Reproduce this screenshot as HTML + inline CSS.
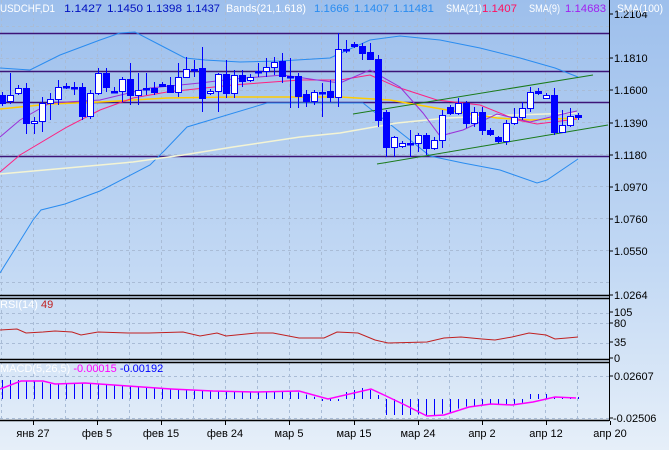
<!DOCTYPE html>
<html><head><meta charset="utf-8"><style>
html,body{margin:0;padding:0;width:669px;height:450px;overflow:hidden;background:linear-gradient(#9dbfec,#c3d9f4 60%,#e6eff9);font-family:"Liberation Sans",sans-serif}
svg{position:absolute;left:0;top:0}
text{font-family:"Liberation Sans",sans-serif;font-size:11px}
</style></head><body>
<svg id="s" width="669" height="450" xmlns="http://www.w3.org/2000/svg"></svg>
<script>
var s='';
function L(x1,y1,x2,y2,c,w,d){s+='<line x1="'+x1+'" y1="'+y1+'" x2="'+x2+'" y2="'+y2+'" stroke="'+c+'" stroke-width="'+(w||1)+'"'+(d?' stroke-dasharray="'+d+'"':'')+'/>';}
function P(pts,c,w){s+='<polyline fill="none" stroke="'+c+'" stroke-width="'+(w||1)+'" points="'+pts.map(function(p){return p.join(',')}).join(' ')+'"/>';}
function T(x,y,t,c,a){s+='<text x="'+x+'" y="'+y+'" fill="'+c+'"'+(a?' text-anchor="'+a+'"':'')+'>'+t+'</text>';}
var gc='#a9bcd6';
for(var x=1;x<609;x+=32){L(x+.5,0,x+.5,295,gc,1,'3,3');L(x+.5,298,x+.5,360,gc,1,'3,3');L(x+.5,362,x+.5,420,gc,1,'3,3');}
for(var y=26;y<295;y+=32)L(0,y+.5,609,y+.5,gc,1,'3,3');
[313,323,343].forEach(function(y){L(0,y+.5,609,y+.5,gc,1,'3,3')});
[376,418].forEach(function(y){L(0,y+.5,609,y+.5,gc,1,'3,3')});
[33,71,102,156].forEach(function(y){L(0,y+.5,609,y+.5,'#3d1478',1.5)});
P([[0,68],[30,70],[60,55],[100,40],[120,33],[135,32],[160,45],[185,58],[205,60],[240,62],[280,61],[330,58],[370,40],[400,36],[440,40],[480,48],[520,58],[555,68],[578,77]],'#2a8cf0');
P([[0,273],[33,220],[41,210],[65,204],[100,191],[150,165],[165,150],[187,127],[267,103],[340,103],[363,103],[410,140],[430,156],[463,163],[500,170],[537,183],[547,180],[578,159]],'#2a8cf0');
P([[0,174],[67,168],[133,162],[183,155],[233,147],[300,137],[340,133],[397,123],[447,118],[513,115],[577,113]],'#f4f4d4',1.5);
P([[0,109],[50,104],[100,102],[167,98],[233,97],[340,97],[390,100],[447,110],[497,118],[530,120],[577,118]],'#ffcc00',1.5);
P([[0,172],[20,155],[67,127],[100,110],[133,98],[167,92],[233,85],[300,80],[340,80],[370,75],[397,87],[437,100],[480,105],[517,120],[537,124],[577,119]],'#ff2080');
P([[0,137],[20,120],[50,103],[100,100],[150,88],[200,83],[233,79],[283,75],[317,80],[340,83],[370,70],[400,87],[423,113],[440,136],[463,130],[497,114],[530,122],[563,114],[577,111]],'#9a2fd8');
L(353,114,593,75,'#1a7a1a');L(377,164,608,125,'#1a7a1a');
var C=[[0,95,103,92,106],[1,95,101,73,104],[1,88,93,85,95],[0,88,123,83,134],[1,121,123,117,134],[1,103,121,97,132],[1,99,103,93,120],[1,87,99,80,105],[0,86,86,83,89],[0,87,87,82,95],[0,87,116,83,120],[1,93,116,90,119],[1,73,93,68,95],[0,73,87,68,92],[0,91,91,87,93],[1,79,91,77,102],[0,79,95,63,105],[1,90,95,73,105],[0,88,88,73,95],[0,88,92,82,95],[0,84,86,82,87],[0,85,92,77,93],[1,77,92,63,97],[1,69,77,57,78],[0,69,69,60,77],[0,68,98,47,112],[1,91,93,89,95],[1,74,91,73,112],[0,74,93,60,98],[1,75,93,70,98],[0,75,81,70,87],[1,77,80,74,82],[0,71,72,63,77],[1,67,71,58,77],[1,62,67,57,75],[0,61,76,53,83],[0,76,77,58,108],[0,76,96,73,108],[0,94,101,90,107],[1,92,101,90,105],[0,92,93,83,117],[0,91,97,80,102],[1,49,97,33,107],[0,49,49,40,53],[0,44,46,42,48],[0,46,53,43,60],[0,52,59,43,60],[0,59,120,55,127],[0,112,147,110,157],[1,137,147,136,157],[1,143,146,141,148],[0,143,143,130,157],[1,135,143,133,152],[0,135,148,133,155],[1,140,148,137,150],[1,115,140,110,148],[0,107,113,105,115],[1,103,113,98,115],[0,103,123,101,128],[1,112,123,107,127],[0,112,130,107,135],[0,130,134,128,136],[0,137,141,136,143],[1,123,141,120,145],[1,117,123,108,125],[1,108,117,102,120],[1,92,108,87,112],[0,91,93,88,95],[1,95,98,93,99],[0,95,132,88,135],[1,125,132,110,133],[1,116,125,108,127],[0,115,117,113,120]];
C.forEach(function(c,k){var x=Math.round(1.7+8*k);L(x+.5,c[3],x+.5,c[4],'#0000ff');
 var h=Math.max(c[2]-c[1],1.5);
 if(c[0])s+='<rect x="'+(x-2.5)+'" y="'+(c[1]+.5)+'" width="6" height="'+h+'" fill="#fff" stroke="#0000ff"/>';
 else s+='<rect x="'+(x-3)+'" y="'+c[1]+'" width="7" height="'+(h+1)+'" fill="#0000ff"/>';});
L(0,295.5,609,295.5,'#000',1.5);L(0,298.5,609,298.5,'#000',1.5);L(0,359.5,609,359.5,'#000',1.5);L(0,362.5,609,362.5,'#000',1.5);L(0,420.5,609,420.5,'#000',1.5);
L(609.5,0,609.5,421,'#000',1);
P([[0,330],[17,329],[26,333],[43,332],[55,331],[72,332],[81,335],[98,332],[128,333],[149,333],[183,332],[200,336],[217,333],[226,336],[256,333],[273,333],[299,338],[324,338],[337,332],[358,333],[375,340],[388,343],[427,342],[444,338],[461,337],[482,339],[495,340],[512,337],[529,333],[546,335],[555,339],[567,338],[578,337]],'#c02020');
var sig=[[0,389],[21,381],[43,381],[55,384],[85,383],[128,386],[171,389],[213,391],[256,392],[299,391],[328,399],[371,389],[384,395],[405,405],[427,416],[444,415],[469,407],[491,404],[512,405],[533,402],[555,397],[576,398]];
function sy(x){for(var i=1;i<sig.length;i++)if(x<=sig[i][0]){var a=sig[i-1],b=sig[i];return a[1]+(b[1]-a[1])*(x-a[0])/(b[0]-a[0]);}return 398;}
var z=399;
C.forEach(function(c,k){var x=Math.round(1.7+8*k);var v=sy(x+6);var d=v-z;if(k<3)d=-19;if(k>=40&&k<=42)d=2;if(k>=43&&k<=46)d=-11+Math.abs(k-45)*2;if(k>=48&&k<=56)d=Math.max(d,14)+(k<52?2:0);if(k>=66&&k<=68)d=-5;if(k>=69)d=-2;L(x+.5,z,x+.5,z+d,'#0000ff');});
P(sig,'#ff00ff',1.5);
[['1.2104',14],['1.1810',58],['1.1600',90],['1.1390',123],['1.1180',155],['1.0970',187],['1.0760',219],['1.0550',251],['1.0264',295]].forEach(function(a){L(609,a[1],613,a[1],'#000');T(614,a[1]+4,a[0],'#000');});
[['105',312],['80',323],['35',342],['0',358]].forEach(function(a){L(609,a[1],613,a[1],'#000');T(614,a[1]+4,a[0],'#000');});
[['0.02607',376],['-0.02506',418]].forEach(function(a){L(609,a[1],613,a[1],'#000');T(a[0][0]=='-'?613:614,a[1]+4,a[0],'#000');});
[['янв 27',33],['фев 5',97],['фев 15',161],['фев 24',225],['мар 5',289],['мар 15',354],['мар 24',418],['апр 2',482],['апр 12',546],['апр 20',610]].forEach(function(a){L(a[1]+.5,421,a[1]+.5,425,'#000');T(a[1],437,a[0],'#000','middle');});
var H=[['USDCHF,D1',0,'#fff',55],['1.1427',64,'#0010c0',38],['1.1450',107,'#0010c0',36],['1.1398',146,'#0010c0',36],['1.1437',186,'#0010c0',34],['Bands(21,1.618)',226,'#fff',80],['1.1666',314,'#2a8cf0',35],['1.1407',354,'#2a8cf0',35],['1.11481',393,'#2a8cf0',41],['SMA(21)',446,'#fff',36],['1.1407',482,'#ff1060',35],['SMA(9)',529,'#fff',31],['1.14683',565,'#a020f0',41],['SMA(100)',617,'#fff',46]];
H.forEach(function(h){s+='<text x="'+h[1]+'" y="12" fill="'+h[2]+'" textLength="'+h[3]+'" lengthAdjust="spacingAndGlyphs">'+h[0]+'</text>';});
s+='<text x="0" y="308"><tspan fill="#fff">RSI(14) </tspan><tspan fill="#c02020"> 49</tspan></text>';
s+='<text x="0" y="372"><tspan fill="#fff">MACD(5,26,5) </tspan><tspan fill="#ff00ff"> -0.00015 </tspan><tspan fill="#0000ff"> -0.00192</tspan></text>';
document.getElementById('s').innerHTML=s;
</script>
</body></html>
